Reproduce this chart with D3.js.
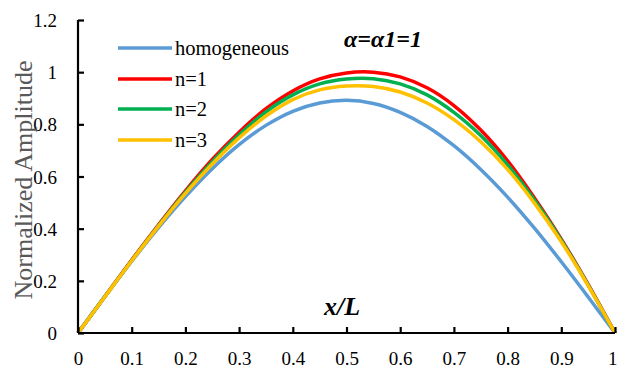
<!DOCTYPE html>
<html>
<head>
<meta charset="utf-8">
<script src="https://cdn.jsdelivr.net/npm/d3@7"></script>
<style>
  html, body { margin: 0; padding: 0; background: #fff; }
  svg { display: block; }
</style>
</head>
<body>
<svg id="chart" width="617" height="369"></svg>
<script>
// ---- data ----
const xValues = [0, 0.05, 0.1, 0.15, 0.2, 0.25, 0.3, 0.35, 0.4, 0.45, 0.5, 0.55, 0.6, 0.65, 0.7, 0.75, 0.8, 0.85, 0.9, 0.95, 1];
const homogeneous = [0, 0.139, 0.275, 0.404, 0.523, 0.630, 0.722, 0.796, 0.850, 0.882, 0.892, 0.880, 0.846, 0.792, 0.718, 0.627, 0.521, 0.402, 0.273, 0.138, 0];
const n1 = [0, 0.140, 0.280, 0.415, 0.545, 0.665, 0.770, 0.860, 0.928, 0.974, 0.997, 1.000, 0.982, 0.940, 0.872, 0.778, 0.660, 0.518, 0.360, 0.186, 0];
const n2 = [0, 0.140, 0.278, 0.412, 0.540, 0.657, 0.760, 0.848, 0.913, 0.955, 0.974, 0.975, 0.955, 0.913, 0.846, 0.757, 0.645, 0.510, 0.356, 0.184, 0];
const n3 = [0, 0.139, 0.277, 0.410, 0.535, 0.648, 0.748, 0.832, 0.895, 0.932, 0.947, 0.945, 0.924, 0.882, 0.818, 0.733, 0.627, 0.498, 0.350, 0.182, 0];
const seriesNames = ["homogeneous", "n=1", "n=2", "n=3"];
const seriesColors = ["#5B9BD5", "#FF0000", "#00B050", "#FFC000"];
const xTicks = [0, 0.1, 0.2, 0.3, 0.4, 0.5, 0.6, 0.7, 0.8, 0.9, 1];
const yTicks = [0, 0.2, 0.4, 0.6, 0.8, 1, 1.2];
const yTitle = "Normalized Amplitude";
const xTitle = "x/L";
const plotTitle = "α=α1=1";

// ---- drawing ----
const FONT = '"Liberation Serif", "Times New Roman", serif';
const svg = d3.select("#chart");
const x = d3.scaleLinear().domain([0, 1]).range([78, 615]);
const y = d3.scaleLinear().domain([0, 1.2]).range([333, 20]);

const allSeries = [homogeneous, n1, n2, n3];

const line = d3.line()
  .x((d, i) => x(xValues[i]))
  .y(d => y(d))
  .curve(d3.curveCatmullRom.alpha(0.5));

const curves = svg.append("g");
allSeries.forEach((s, k) => {
  curves.append("path")
    .datum(s)
    .attr("d", line)
    .attr("fill", "none")
    .attr("stroke", seriesColors[k])
    .attr("stroke-width", 3.5)
    .attr("stroke-linejoin", "round");
});

// axes
const xAxis = d3.axisBottom(x).tickValues(xTicks).tickSize(-6).tickPadding(0).tickFormat(d3.format("~g"));
const yAxis = d3.axisLeft(y).tickValues(yTicks).tickSize(-6).tickPadding(0).tickFormat(d3.format("~g"));

const gx = svg.append("g").attr("transform", `translate(0,${y(0)})`).call(xAxis);
const gy = svg.append("g").attr("transform", `translate(${x(0)},0)`).call(yAxis);

[gx, gy].forEach(g => {
  g.attr("font-family", null).attr("font-size", null);
  g.select(".domain").attr("stroke", "#000").attr("stroke-width", 2.2);
  g.selectAll(".tick line").attr("stroke", "#000").attr("stroke-width", 2.2);
  g.selectAll("text").style("font-family", FONT).style("font-size", "19px").attr("fill", "#000");
});
gx.select(".domain").attr("d", `M${x(0)},0H${x(1)}`);
gy.select(".domain").attr("d", `M0,${y(0)}V${y(1.2)}`);

gx.selectAll(".tick text").attr("y", 32).attr("dy", "0");
// keep the last label inside the frame, as in the reference
gx.selectAll(".tick text").filter(d => d === 1).attr("text-anchor", "end").attr("x", 2);
gy.selectAll(".tick text").attr("x", -21).attr("dy", "0.35em");

// y title
svg.append("text")
  .attr("transform", `translate(32,180) rotate(-90)`)
  .attr("text-anchor", "middle")
  .style("font-family", FONT)
  .style("font-size", "26px")
  .attr("fill", "#595959")
  .text(yTitle);

// x title
svg.append("text")
  .attr("x", 342).attr("y", 315)
  .attr("text-anchor", "middle")
  .style("font-family", FONT)
  .style("font-size", "26px")
  .attr("font-weight", "bold")
  .attr("font-style", "italic")
  .attr("fill", "#000")
  .text(xTitle);

// plot title
svg.append("text")
  .attr("x", 383).attr("y", 47)
  .attr("text-anchor", "middle")
  .style("font-family", FONT)
  .style("font-size", "24px")
  .attr("font-weight", "bold")
  .attr("font-style", "italic")
  .attr("fill", "#000")
  .text(plotTitle);

// legend
const legendY = [48, 79, 109, 140];
const legend = svg.append("g");
seriesNames.forEach((name, k) => {
  legend.append("line")
    .attr("x1", 118).attr("x2", 172)
    .attr("y1", legendY[k]).attr("y2", legendY[k])
    .attr("stroke", seriesColors[k]).attr("stroke-width", 3.5);
  legend.append("text")
    .attr("x", 175).attr("y", legendY[k]).attr("dy", "0.35em")
    .style("font-family", FONT)
    .style("font-size", "20.5px")
    .attr("fill", "#000")
    .text(name);
});
</script>
</body>
</html>
